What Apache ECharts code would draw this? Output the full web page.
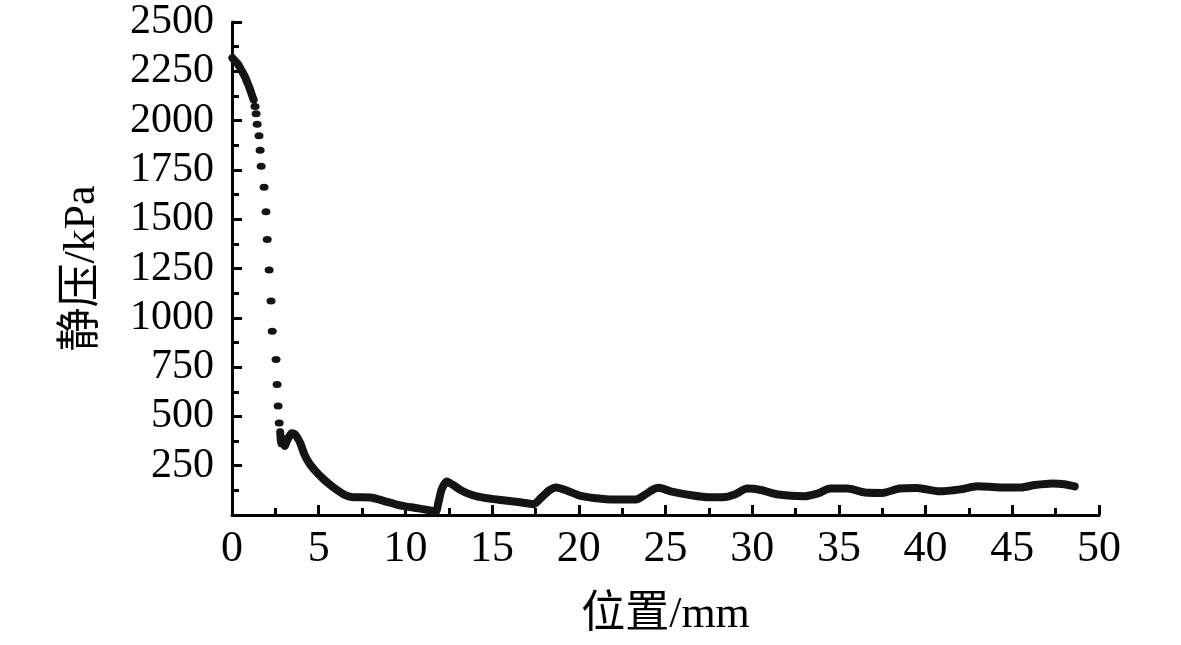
<!DOCTYPE html>
<html>
<head>
<meta charset="utf-8">
<style>
html, body {
  margin: 0;
  padding: 0;
  background: #fff;
}
#chart {
  width: 1181px;
  height: 645px;
}
</style>
<title>静压分布</title>
</head>
<body>
<div id="chart"></div>
<script src="https://cdn.jsdelivr.net/npm/echarts@6/dist/echarts.min.js"></script>
<script type="text/javascript">

    // x positions (mm) and static pressure (kPa)

    // dense start, near the wall
    var headX = [0.02, 0.2, 0.35, 0.5, 0.63, 0.75, 0.85, 0.95, 1.05, 1.15, 1.25];
    var headY = [2318, 2300, 2285, 2262, 2242, 2222, 2200, 2180, 2155, 2130, 2105];

    // the separate dots of the steep drop
    var dropX = [1.33, 1.39, 1.45, 1.56, 1.62, 1.68, 1.85, 1.96, 2.03, 2.14, 2.25, 2.32, 2.54, 2.6, 2.66, 2.72];
    var dropY = [2072, 2035, 1982, 1923, 1850, 1768, 1662, 1538, 1397, 1242, 1085, 932, 788, 662, 553, 466];

    // dense tail
    var tailX = [2.78, 2.85, 2.95, 3.05, 3.15, 3.28, 3.45, 3.6, 3.8, 3.95, 4.2, 4.5, 4.9, 5.3, 5.7, 6.1,
                 6.5, 7.0, 7.5, 8.0, 8.5, 9.0, 9.5, 10.0, 10.5, 11.0, 11.5, 11.75, 11.9, 12.1, 12.4, 12.7,
                 13.2, 13.8, 14.5, 15.5, 16.5, 17.4, 17.8, 18.3, 18.7, 19.3, 20.0, 21.0, 22.0, 23.3, 23.8, 24.3,
                 24.6, 25.3, 26.5, 27.5, 28.3, 29.0, 29.7, 30.5, 31.5, 33.0, 33.8, 34.5, 35.5, 36.5, 37.5, 38.5,
                 39.5, 40.8, 42.0, 43.0, 44.3, 45.5, 46.3, 47.3, 48.0, 48.6];
    var tailY = [420, 362, 385, 350, 372, 395, 415, 412, 388, 362, 302, 257, 215, 180, 150, 124,
                 102, 90, 90, 89, 78, 65, 53, 44, 37, 30, 22, 16, 62, 132, 170, 155,
                 126, 103, 88, 76, 66, 55, 85, 125, 140, 124, 100, 85, 78, 79, 102, 130,
                 138, 120, 100, 90, 90, 104, 134, 127, 104, 95, 110, 134, 134, 114, 112, 134,
                 137, 120, 130, 146, 140, 140, 152, 160, 156, 145];

    var xTicks = { min: 0, max: 50, interval: 5 };
    var yTicks = { min: 0, max: 2500, interval: 250 };

    function pairs(xs, ys) {
        var out = [];
        for (var i = 0; i < xs.length; i++) {
            out.push([xs[i], ys[i]]);
        }
        return out;
    }

    var lineData = pairs(headX, headY).concat([[null, null]]).concat(pairs(tailX, tailY));

    var serif = "'Liberation Serif', 'Times New Roman', 'Noto Sans CJK SC', serif";
    var ink = '#141414';

    var myChart = echarts.init(document.getElementById('chart'));
    var option = {
        backgroundColor: '#fff',
        animation: false,
        grid: {
            left: 232,
            right: 82,
            top: 22,
            bottom: 130
        },
        xAxis: {
            type: 'value',
            min: xTicks.min,
            max: xTicks.max,
            interval: xTicks.interval,
            name: '位置/mm',
            nameLocation: 'middle',
            nameGap: 78,
            nameTextStyle: { color: '#000', fontSize: 44, fontFamily: serif },
            axisLine: { lineStyle: { color: '#000', width: 3 } },
            axisTick: { inside: true, length: 10, lineStyle: { color: '#000', width: 3 } },
            minorTick: { show: true, splitNumber: 2, length: 7, lineStyle: { color: '#000', width: 3 } },
            axisLabel: { color: '#000', fontSize: 44, fontFamily: serif, margin: 12 },
            splitLine: { show: false }
        },
        yAxis: {
            type: 'value',
            min: yTicks.min,
            max: yTicks.max,
            interval: yTicks.interval,
            name: '静压/kPa',
            nameLocation: 'middle',
            nameGap: 128,
            nameTextStyle: { color: '#000', fontSize: 44, fontFamily: serif },
            axisLine: { show: true, lineStyle: { color: '#000', width: 3 } },
            axisTick: { inside: true, length: 10, lineStyle: { color: '#000', width: 3 } },
            minorTick: { show: true, splitNumber: 2, length: 7, lineStyle: { color: '#000', width: 3 } },
            axisLabel: {
                color: '#000', fontSize: 42, fontFamily: serif, margin: 18,
                formatter: function (v) { return v === 0 ? '' : String(v); }
            },
            splitLine: { show: false }
        },
        series: [
            {
                name: 'dense',
                type: 'line',
                data: lineData,
                showSymbol: false,
                connectNulls: false,
                smooth: 0.25,
                lineStyle: { color: ink, width: 8, cap: 'round', join: 'round' }
            },
            {
                name: 'drop',
                type: 'scatter',
                data: pairs(dropX, dropY),
                symbol: 'circle',
                symbolSize: [9, 7],
                itemStyle: { color: ink, opacity: 1 }
            }
        ]
    };
    myChart.setOption(option, true);
</script>
</body>
</html>
